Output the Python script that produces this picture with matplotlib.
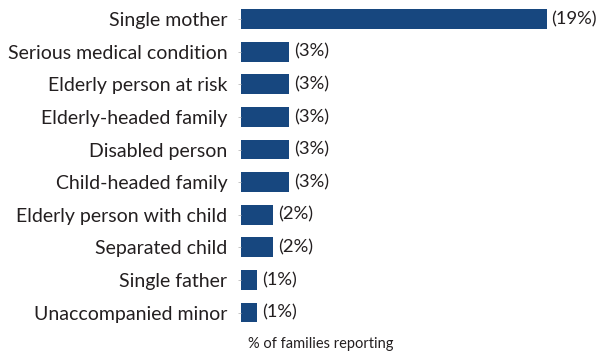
import matplotlib
matplotlib.use('Agg')
import matplotlib.pyplot as plt

categories = ['Single mother', 'Serious medical condition', 'Elderly person at risk',
              'Elderly-headed family', 'Disabled person', 'Child-headed family',
              'Elderly person with child', 'Separated child', 'Single father',
              'Unaccompanied minor']
values = [19, 3, 3, 3, 3, 3, 2, 2, 1, 1]
value_labels = ['(19%)', '(3%)', '(3%)', '(3%)', '(3%)', '(3%)', '(2%)', '(2%)', '(1%)', '(1%)']
xlabel = '% of families reporting'

plt.rcParams['font.family'] = ['Lato', 'DejaVu Sans']
bar_color = '#17477f'
text_color = '#231f20'

fig = plt.figure(figsize=(6, 3.53), dpi=100)
ax = fig.add_axes([0.4017, 0.0685, 0.59, 0.9235])

y = list(range(len(categories)))
ax.barh(y, values, height=0.61, color=bar_color)
for yi, v, lab in zip(y, values, value_labels):
    ax.text(v + 0.3, yi, lab, va='center', ha='left', fontsize=13.2, color=text_color)

ax.set_xlim(0, 22)
ax.set_ylim(len(categories) - 0.5, -0.5)
ax.set_yticks(y)
ax.set_yticklabels(categories, fontsize=14, color=text_color)
ax.tick_params(axis='y', length=2, width=0.6, color='#bbbbbb', pad=8)
ax.set_xticks([])
for s in ax.spines.values():
    s.set_visible(False)

fig.text(0.535, 0.025, xlabel, ha='center', va='center', fontsize=10.5, color=text_color)

fig.savefig('out.png', dpi=100)
